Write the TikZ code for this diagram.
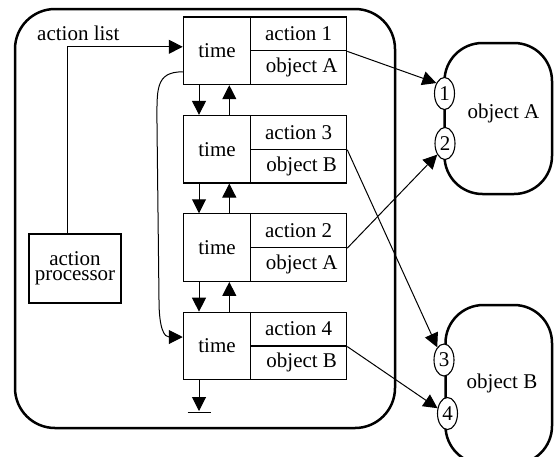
\documentclass[tikz,border=0pt]{standalone}
\usepackage{fontspec}
\setmainfont{Liberation Serif}
\usetikzlibrary{arrows.meta,shapes.geometric,calc}
\begin{document}
\begin{tikzpicture}[x=1pt,y=-1pt,
  every node/.style={font=\fontsize{21}{15}\selectfont},
  cellbox/.style={draw,line width=1.1pt,inner sep=0pt},
  timecell/.style={cellbox,minimum width=67.4pt,minimum height=67.6pt},
  actcell/.style={cellbox,minimum width=96pt,minimum height=33.8pt},
  port/.style={draw,ellipse,fill=white,line width=1.1pt,inner sep=0pt,minimum width=20pt,minimum height=32pt},
  arr/.style={line width=1pt,-{Triangle[length=14pt 0 0,width=14pt 0 0]}},
  thickline/.style={line width=2.5pt},
]
\useasboundingbox (0,0) rectangle (556,456);
\clip (0,0) rectangle (556,456);
% outer frame
\draw[thickline,rounded corners=40pt] (15,9) rectangle (395,428);
% action list boxes
\foreach \i/\T/\act/\obj in {1/17/1/A,2/115.4/3/B,3/213.8/2/A,4/312.2/4/B}{
  \node[timecell] (t\i) at (217,\T+33.8) {time};
  \node[actcell] (a\i) at (298.7,\T+16.9) {action \act};
  \node[actcell] (o\i) at (298.7,\T+50.7) {\hspace{6pt}object \obj};
}
% links between boxes
\foreach \i/\j in {1/2,2/3,3/4}{
  \draw[arr] ([xshift=-18pt]t\i.south) -- ([xshift=-18pt]t\j.north);
  \draw[arr] ([xshift=12.3pt]t\j.north) -- ([xshift=12.3pt]t\i.south);
}
% end of list
\coordinate (gnd) at (199,411);
\draw[arr] ([xshift=-18pt]t4.south) -- (gnd);
\draw[line width=1.2pt] ([xshift=-11.5pt,yshift=-1.5pt]gnd) -- ([xshift=11.5pt,yshift=-1.5pt]gnd);
% action processor
\node[cellbox,minimum width=92pt,minimum height=69pt,align=center] (ap) at (75,268.5) {action\\processor};
\draw[arr] ([xshift=-8pt]ap.north) |- ([yshift=4pt]t1.west);
\node[anchor=base west,inner sep=0pt] (al) at (37,40.5) {action list};
% curved link
\draw[arr] ([yshift=-21pt]t1.west) .. controls +(-28,0) and +(0,-35) .. (157,125)
   -- (159,300) .. controls +(0,30) and +(-18,0) .. ([yshift=9pt]t4.west);
% objects
\draw[thickline,rounded corners=38pt] (444.5,43) rectangle (552,194);
\draw[thickline,rounded corners=38pt] (445.5,305) rectangle (552,464);
\node[port] (p1) at (444.5,93.5) {1};
\node[port] (p2) at (445,143.5) {2};
\node[port] (p3) at (444,360) {3};
\node[port] (p4) at (447.5,413.5) {4};
\node[anchor=base] (oa) at (503.5,118) {object A};
\node[anchor=base] (ob) at (502,388) {object B};
% messages
\draw[arr] (a1.south east) -- (p1.128);
\draw[arr] (a3.south east) -- (p2.235);
\draw[arr] (a2.south east) -- (p3.118);
\draw[arr] (a4.south east) -- (p4.152);
\end{tikzpicture}
\end{document}
